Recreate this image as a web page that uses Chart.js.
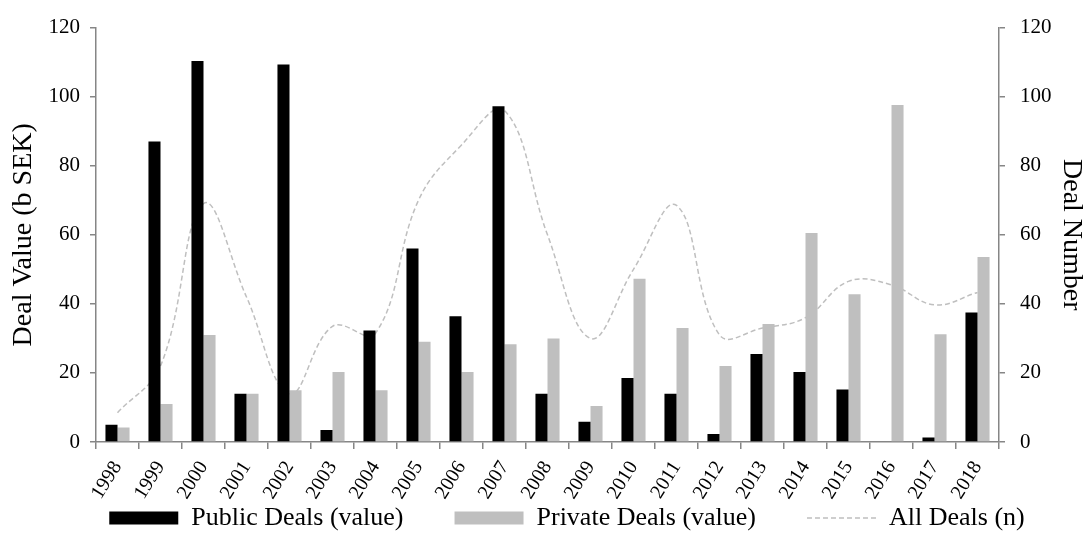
<!DOCTYPE html>
<html>
<head>
<meta charset="utf-8">
<script src="https://cdn.jsdelivr.net/npm/chart.js@4.4.1/dist/chart.umd.min.js"></script>
<style>
html, body { margin: 0; padding: 0; background: #fff; }
#wrap { width: 1088px; height: 533px; }
</style>
</head>
<body>
<div id="wrap"><canvas id="myChart" width="1088" height="533"></canvas></div>
<script>
// values
const years = ['1998','1999','2000','2001','2002','2003','2004','2005','2006','2007','2008',
	'2009','2010','2011','2012','2013','2014','2015','2016','2017','2018'];
const publicDeals = [5, 87, 110.3, 14, 109.3, 3.5, 32.3, 56, 36.4, 97.2, 14, 5.9, 18.5, 14, 2.3, 25.5, 20.3, 15.2, 0, 1.3, 37.5];
const privateDeals = [4.2, 11, 31, 14, 15, 20.3, 15, 29, 20.3, 28.3, 30, 10.4, 47.3, 33, 22, 34.2, 60.5, 42.8, 97.6, 31.2, 53.6];
const allDeals = [8.5, 22, 69, 42, 14, 33.5, 31.5, 70, 86, 96, 60, 30, 50, 68.5, 31, 33, 36, 46.5, 45.5, 39.7, 43.3];
const valueTicks = [0, 20, 40, 60, 80, 100, 120];

const serif = "'Liberation Serif', 'Times New Roman', serif";
const axisGray = '#868686';
const barGray = '#bfbfbf';

Chart.defaults.font.family = serif;
Chart.defaults.color = '#000';

const myChart = document.getElementById('myChart');

function axisY(pos, title, tickPad, width) {
	return {
		type: 'linear',
		position: pos,
		min: valueTicks[0],
		max: valueTicks[valueTicks.length - 1],
		afterBuildTicks: scale => { scale.ticks = valueTicks.map(v => ({value: v})); },
		afterFit: scale => { scale.width = width; },
		grid: {drawOnChartArea: false, drawTicks: true, tickLength: 6, color: axisGray, lineWidth: 1.5},
		border: {color: axisGray, width: 1.5},
		ticks: {font: {size: 21}, color: '#000', padding: tickPad},
		title: {display: true, text: title, font: {size: 28}, color: '#000', padding: {top: pos === 'left' ? 7 : 0, bottom: 0}}
	};
}

// legend: short box under the x axis, row nudged right and up like the original
const legendFit = {
	id: 'legendFit',
	afterInit: chart => {
		const legend = chart.legend;
		const fit = legend.fit;
		const drawItems = legend._draw;
		legend.fit = function () {
			fit.call(this);
			this.height = 30;
			this.lineWidths[0] -= 46;
		};
		legend._draw = function () {
			const dy = 505 - this.top - this.options.labels.padding;
			this.ctx.save();
			this.ctx.translate(0, dy);
			drawItems.call(this);
			this.ctx.restore();
		};
	}
};

let barChart = new Chart(myChart, {
	type: 'bar',
	data: {
		labels: years,
		datasets: [{
			label: 'Public Deals (value)',
			data: publicDeals,
			backgroundColor: '#000',
			borderColor: '#000',
			borderWidth: 0,
			categoryPercentage: 0.56,
			barPercentage: 1.0,
			yAxisID: 'y'
		}, {
			label: 'Private Deals (value)',
			data: privateDeals,
			backgroundColor: barGray,
			borderColor: barGray,
			borderWidth: 0,
			categoryPercentage: 0.56,
			barPercentage: 1.0,
			yAxisID: 'y'
		}, {
			type: 'line',
			label: 'All Deals (n)',
			data: allDeals,
			borderColor: barGray,
			backgroundColor: barGray,
			borderWidth: 1.5,
			borderDash: [5, 3],
			pointRadius: 0,
			tension: 0.4,
			fill: false,
			yAxisID: 'y1'
		}]
	},
	options: {
		responsive: false,
		animation: false,
		devicePixelRatio: 1,
		layout: {padding: {top: 26, left: 0, right: 0, bottom: 0}},
		scales: {
			x: {
				offset: true,
				grid: {offset: true, drawOnChartArea: false, drawTicks: true, tickLength: 7, color: axisGray, lineWidth: 1.5},
				border: {color: axisGray, width: 1.5},
				ticks: {autoSkip: false, minRotation: 58, maxRotation: 58, font: {size: 20}, color: '#000', padding: 8},
				afterFit: scale => { scale.height = 61; }
			},
			y: axisY('left', 'Deal Value (b SEK)', 10, 96),
			y1: axisY('right', 'Deal Number', 15, 89)
		},
		plugins: {
			tooltip: {enabled: false},
			legend: {
				position: 'bottom',
				labels: {
					usePointStyle: true,
					pointStyleWidth: 69,
					boxWidth: 69,
					boxHeight: 13,
					padding: 51,
					font: {size: 26},
					color: '#000',
					sort: (a, b) => a.datasetIndex - b.datasetIndex,
					generateLabels: chart => {
						let items = Chart.defaults.plugins.legend.labels.generateLabels(chart);
						return items.map(item => {
							if (item.datasetIndex === 2) {
								item.pointStyle = 'line';
								item.lineWidth = 1.5;
								item.strokeStyle = barGray;
								item.lineDash = [5, 3];
							} else {
								item.pointStyle = 'rect';
								item.lineWidth = 0;
							}
							return item;
						});
					}
				}
			}
		}
	},
	plugins: [legendFit]
});
</script>
</body>
</html>
